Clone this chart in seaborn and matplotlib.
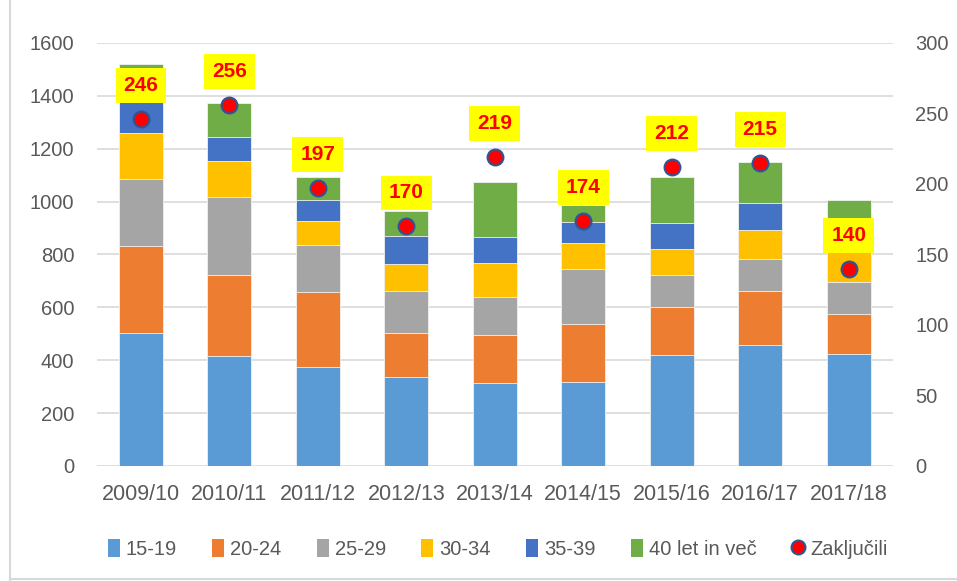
import matplotlib
matplotlib.use("Agg")
import matplotlib.pyplot as plt
import numpy as np
import pandas as pd
import seaborn as sns
from matplotlib.patches import Patch
from matplotlib.lines import Line2D

# data
seasons = ["2009/10", "2010/11", "2011/12", "2012/13", "2013/14",
           "2014/15", "2015/16", "2016/17", "2017/18"]
groups = ["15-19", "20-24", "25-29", "30-34", "35-39", "40 let in več"]
age_15_19 = [503, 416, 375, 335, 313, 317, 419, 458, 425]
age_20_24 = [329, 306, 282, 168, 183, 220, 182, 204, 150]
age_25_29 = [252, 295, 178, 160, 142, 208, 122, 120, 121]
age_30_34 = [174, 138, 92, 102, 128, 98, 98, 111, 120]
age_35_39 = [125, 88, 80, 106, 102, 78, 99, 100, 105]
age_40_plus = [137, 130, 87, 95, 207, 66, 172, 156, 86]
finished = [246, 256, 197, 170, 219, 174, 212, 215, 140]

colors = ["#5B9BD5", "#ED7D31", "#A5A5A5", "#FFC000", "#4472C4", "#70AD47"]

sns.set_style("white")
plt.rcParams["font.family"] = ["Liberation Sans", "DejaVu Sans"]

df = pd.DataFrame(
    np.array([age_15_19, age_20_24, age_25_29, age_30_34, age_35_39, age_40_plus]).T,
    columns=groups)
df["season"] = seasons
cum = df[groups].cumsum(axis=1)

fig = plt.figure(figsize=(9.57, 5.81), dpi=100)
ax = fig.add_axes([0.101, 0.198, 0.832, 0.728])

# stacked bars: draw cumulative totals from top segment down
for i in range(len(groups) - 1, -1, -1):
    sns.barplot(x=df["season"], y=cum[groups[i]], color=colors[i], width=0.5,
                saturation=1, edgecolor="#F2F2F2", linewidth=0.6, ax=ax, zorder=3)

ax.set_ylim(0, 1600)
ax.set_xlim(-0.5, len(seasons) - 0.5)
ax.set_yticks(np.arange(0, 1601, 200))
ax.yaxis.grid(True, color="#D9D9D9", linewidth=1.2, zorder=0)
ax.set_axisbelow(True)
ax.set_xlabel("")
ax.set_ylabel("")
for s in ax.spines.values():
    s.set_visible(False)
ax.tick_params(axis="both", length=0, labelcolor="#595959")
ax.tick_params(axis="x", labelsize=15.5, pad=13)
ax.tick_params(axis="y", labelsize=14.5, pad=16)

ax2 = ax.twinx()
xpos = np.arange(len(seasons))
sns.scatterplot(x=xpos, y=finished, ax=ax2, color="#FF0000", s=130,
                edgecolor="#2F5597", linewidth=1.5, zorder=5)
ax2.set_ylim(0, 300)
ax2.set_yticks(np.arange(0, 301, 50))
for s in ax2.spines.values():
    s.set_visible(False)
ax2.tick_params(axis="y", length=0, labelsize=14.5, labelcolor="#595959", pad=16)
ax2.set_xlim(-0.5, len(seasons) - 0.5)

for x, v in zip(xpos, finished):
    ax2.annotate(str(v), (x, v), xytext=(0, 24), textcoords="offset points",
                 ha="center", va="center", fontsize=15, fontweight="bold",
                 color="#FF0000", zorder=6,
                 bbox=dict(boxstyle="square,pad=0.38", fc="#FFFF00", ec="none"))

handles = [Patch(facecolor=c, edgecolor="none") for c in colors]
handles.append(Line2D([], [], marker="o", linestyle="none", markersize=10,
                      markerfacecolor="#FF0000", markeredgecolor="#2F5597",
                      markeredgewidth=1.5))
fig.legend(handles, groups + ["Zaključili"], loc="center", ncol=7,
           bbox_to_anchor=(0.52, 0.055), frameon=False, fontsize=14.5,
           handlelength=0.6, handleheight=1.0, handletextpad=0.3,
           columnspacing=1.75, labelcolor="#595959")

# chart area border (left and bottom edges visible in the crop)
fig.add_artist(Line2D([0.0105, 0.0105], [0.0, 1.0], transform=fig.transFigure,
                      color="#D9D9D9", linewidth=1.5))
fig.add_artist(Line2D([0.0105, 1.0], [0.003, 0.003], transform=fig.transFigure,
                      color="#D9D9D9", linewidth=1.5))

fig.savefig("out.png", dpi=100)
